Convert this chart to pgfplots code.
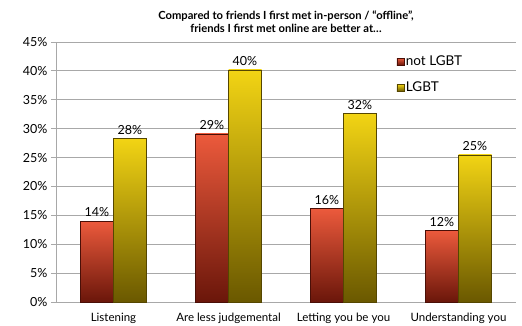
\documentclass[border=0pt]{standalone}
\usepackage{pgfplots}
\pgfplotsset{compat=1.18}
\usepackage{fontspec}
\setmainfont{Lato}
\definecolor{redtop}{HTML}{EC5A3C}
\definecolor{redbot}{HTML}{6A160A}
\definecolor{yeltop}{HTML}{F2D414}
\definecolor{yelbot}{HTML}{6A5800}
\definecolor{gridc}{HTML}{A8A8A8}
\begin{document}
\begin{tikzpicture}
\useasboundingbox (-56bp,-24bp) rectangle (466bp,302bp);
\begin{axis}[
  at={(0,0)}, anchor=south west,
  scale only axis, width=460bp, height=260bp,
  xmin=-0.5, xmax=3.5, ymin=0, ymax=45,
  bar width=33bp,
  redbar/.style={ybar, bar shift=-16.5bp, draw=redbot!70!black, line width=0.3pt, top color=redtop, bottom color=redbot,
    nodes near coords style={xshift=-16.5bp}},
  yelbar/.style={ybar, bar shift=16.5bp, draw=yelbot!80!black, line width=0.3pt, top color=yeltop, bottom color=yelbot,
    nodes near coords style={xshift=16.5bp}},
  axis x line*=bottom, axis y line*=left,
  axis line style={gridc, line width=0.8pt},
  ytick={0,5,...,45},
  yticklabel={\pgfmathprintnumber{\tick}\%},
  ymajorgrids, grid style={gridc, line width=0.8pt},
  ytick style={gridc, line width=0.8pt},
  tick align=outside, major tick length=5bp,
  xtick={0,1,2,3},
  xticklabels={Listening, Are less judgemental, Letting you be you, Understanding you},
  x tick style={draw=none},
  minor xtick={-0.5,0.5,1.5,2.5,3.5},
  minor tick length=5bp, minor x tick style={gridc, line width=0.8pt},
  /pgf/number format/assume math mode=true,
  tick label style={font=\fontsize{12.5bp}{14bp}\selectfont},
  xticklabel style={font=\fontsize{11.5bp}{13bp}\selectfont, yshift=-3bp},
  point meta=explicit,
  nodes near coords={\pgfmathprintnumber[fixed,precision=0]{\pgfplotspointmeta}\%},
  nodes near coords style={font=\fontsize{12.5bp}{14bp}\selectfont, black, inner sep=0pt, anchor=south, yshift=4bp},
  legend style={draw=none, fill=none, at={(rel axis cs:0.74,0.955)}, anchor=north west,
    font=\fontsize{13.5bp}{15bp}\selectfont, row sep=11bp, inner sep=0pt},
  legend cell align=left,
  legend image code/.code={\path[#1] (0bp,-3.5bp) rectangle (7bp,3.5bp);},
  title style={font=\bfseries\fontsize{11.2bp}{12.5bp}\selectfont, align=center, yshift=0bp},
  title={Compared to friends I first met in-person / “offline”,\\friends I first met online are better at…},
  clip=false,
]
\addlegendimage{draw=redbot!70!black, line width=0.3pt, top color=redtop, bottom color=redbot}
\addlegendentry{not LGBT}
\addlegendimage{draw=yelbot!80!black, line width=0.3pt, top color=yeltop, bottom color=yelbot}
\addlegendentry{LGBT}
\addplot[redbar, forget plot] coordinates {(0,14.0) [14]};
\addplot[redbar, forget plot] coordinates {(1,29.1) [29]};
\addplot[redbar, forget plot] coordinates {(2,16.2) [16]};
\addplot[redbar, forget plot] coordinates {(3,12.4) [12]};
\addplot[yelbar, forget plot] coordinates {(0,28.3) [28]};
\addplot[yelbar, forget plot] coordinates {(1,40.2) [40]};
\addplot[yelbar, forget plot] coordinates {(2,32.6) [32]};
\addplot[yelbar, forget plot] coordinates {(3,25.5) [25]};
\end{axis}
\end{tikzpicture}
\end{document}
